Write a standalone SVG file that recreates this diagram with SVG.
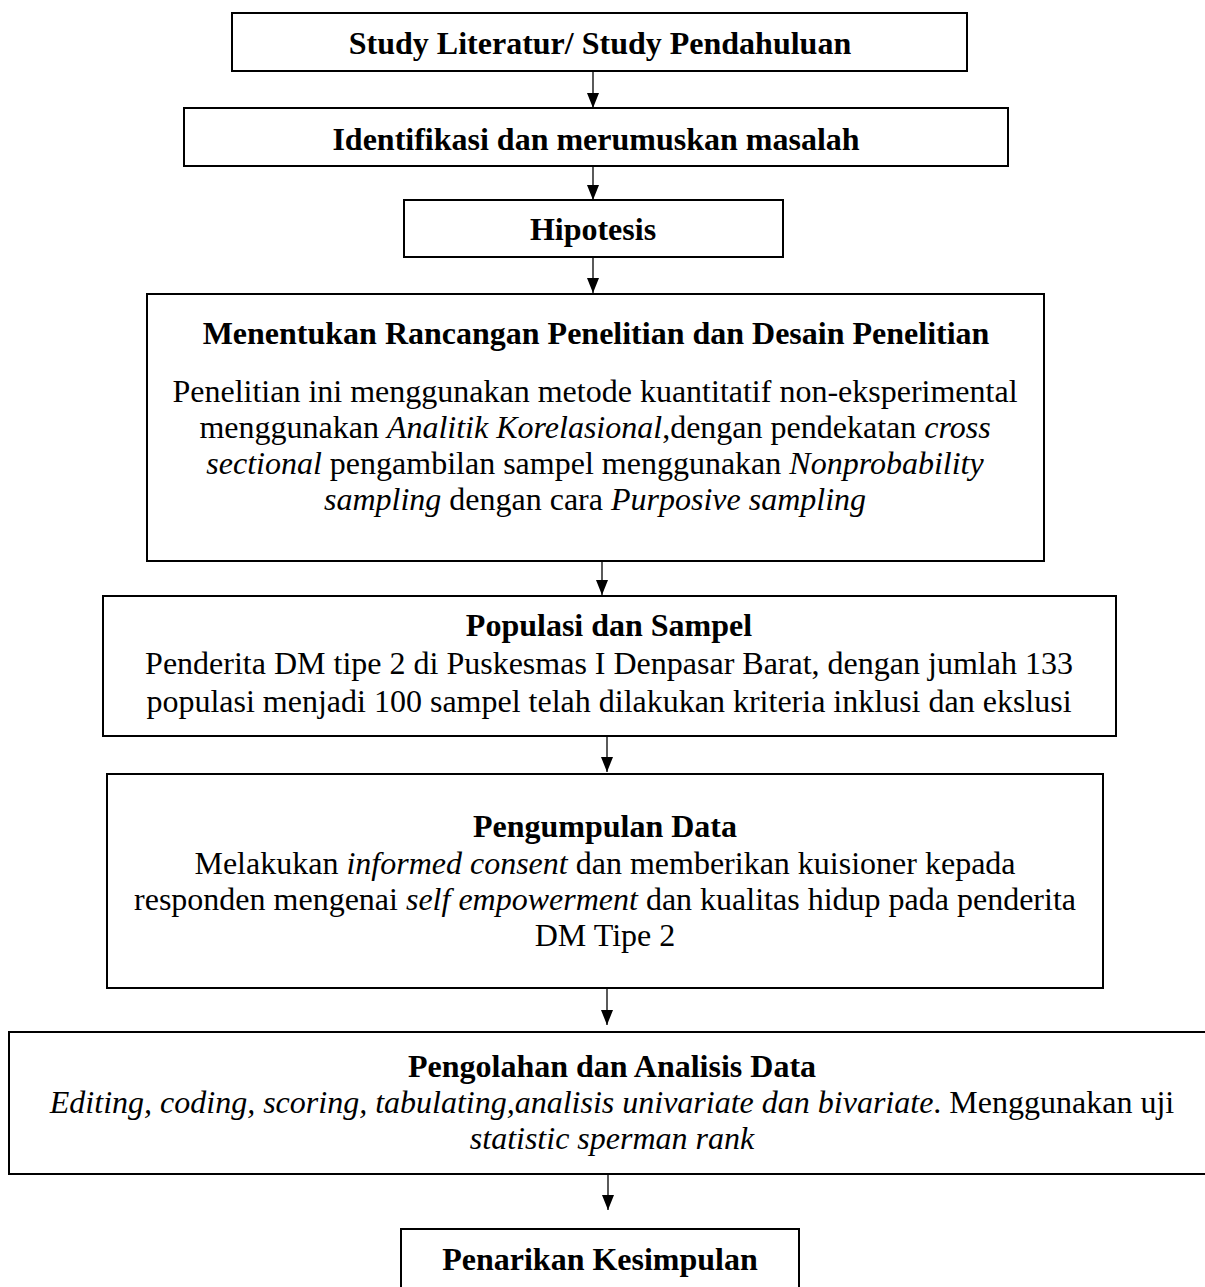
<svg xmlns="http://www.w3.org/2000/svg" width="1205" height="1287" viewBox="0 0 1205 1287">
<style>
.box{fill:#fff;stroke:#000;stroke-width:2}
text{font-family:"Liberation Serif","Times New Roman",serif;font-size:32px;fill:#000;text-anchor:middle}
.b{font-weight:bold}
.i{font-style:italic}
.conn line{stroke:#000;stroke-width:1.3}
</style>
<defs>
<marker id="ah" markerUnits="userSpaceOnUse" viewBox="0 0 15 12" markerWidth="15" markerHeight="12" refX="15" refY="6" orient="auto">
<path d="M0,0 L15,6 L0,12 z" fill="#000"/>
</marker>
</defs>
<rect width="1205" height="1287" fill="#fff"/>
<g id="connectors" class="conn">
<line x1="593" y1="72" x2="593" y2="108" marker-end="url(#ah)"/>
<line x1="593" y1="166" x2="593" y2="200" marker-end="url(#ah)"/>
<line x1="593" y1="257" x2="593" y2="293" marker-end="url(#ah)"/>
<line x1="602" y1="562" x2="602" y2="595" marker-end="url(#ah)"/>
<line x1="607" y1="736" x2="607" y2="772" marker-end="url(#ah)"/>
<line x1="607" y1="989" x2="607" y2="1025" marker-end="url(#ah)"/>
<line x1="608" y1="1175" x2="608" y2="1210" marker-end="url(#ah)"/>
</g>
<g id="n1">
<rect class="box" x="232" y="13" width="735" height="58"/>
<text class="b" x="600" y="54">Study Literatur/ Study Pendahuluan</text>
</g>
<g id="n2">
<rect class="box" x="184" y="108" width="824" height="58"/>
<text class="b" x="596" y="150">Identifikasi dan merumuskan masalah</text>
</g>
<g id="n3">
<rect class="box" x="404" y="200" width="379" height="57"/>
<text class="b" x="593" y="240">Hipotesis</text>
</g>
<g id="n4">
<rect class="box" x="147" y="294" width="897" height="267"/>
<text class="b" x="596" y="344">Menentukan Rancangan Penelitian dan Desain Penelitian</text>
<text x="595" y="402">Penelitian ini menggunakan metode kuantitatif non-eksperimental</text>
<text x="595" y="438">menggunakan <tspan class="i">Analitik Korelasional</tspan>,dengan pendekatan <tspan class="i">cross</tspan></text>
<text x="595" y="474"><tspan class="i">sectional</tspan> pengambilan sampel menggunakan <tspan class="i">Nonprobability</tspan></text>
<text x="595" y="510"><tspan class="i">sampling</tspan> dengan cara <tspan class="i">Purposive sampling</tspan></text>
</g>
<g id="n5">
<rect class="box" x="103" y="596" width="1013" height="140"/>
<text class="b" x="609" y="636">Populasi dan Sampel</text>
<text x="609" y="674">Penderita DM tipe 2 di Puskesmas I Denpasar Barat, dengan jumlah 133</text>
<text x="609" y="712">populasi menjadi 100 sampel telah dilakukan kriteria inklusi dan ekslusi</text>
</g>
<g id="n6">
<rect class="box" x="107" y="774" width="996" height="214"/>
<text class="b" x="605" y="837">Pengumpulan Data</text>
<text x="605" y="874">Melakukan <tspan class="i">informed consent</tspan> dan memberikan kuisioner kepada</text>
<text x="605" y="910">responden mengenai <tspan class="i">self empowerment</tspan> dan kualitas hidup pada penderita</text>
<text x="605" y="946">DM Tipe 2</text>
</g>
<g id="n7">
<rect class="box" x="9" y="1032" width="1210" height="142"/>
<text class="b" x="612" y="1077">Pengolahan dan Analisis Data</text>
<text x="612" y="1113"><tspan class="i">Editing, coding, scoring, tabulating,analisis univariate dan bivariate</tspan>. Menggunakan uji</text>
<text x="612" y="1149" class="i">statistic sperman rank</text>
</g>
<g id="n8">
<rect class="box" x="401" y="1229" width="398" height="70"/>
<text class="b" x="600" y="1270">Penarikan Kesimpulan</text>
</g>
</svg>
